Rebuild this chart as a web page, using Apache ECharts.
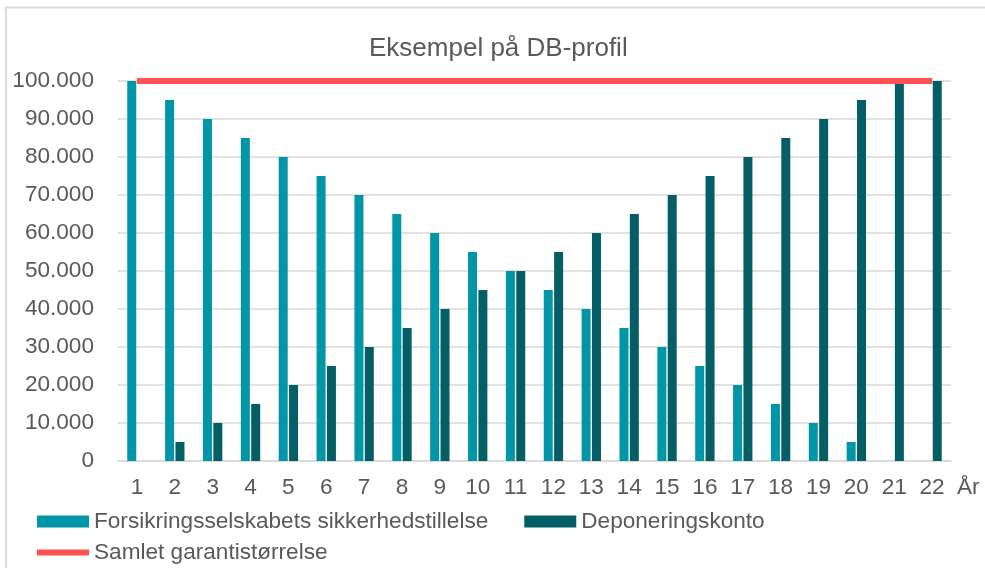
<!DOCTYPE html>
<html>
<head>
<meta charset="utf-8">
<script src="https://cdn.jsdelivr.net/npm/echarts@6/dist/echarts.min.js"></script>
<style>
  html, body { margin: 0; padding: 0; background: #fff; }
  #chart { width: 985px; height: 568px; }
</style>
</head>
<body>
<div id="chart"></div>
<script>
// years
const years = ['1','2','3','4','5','6','7','8','9','10','11','12','13','14','15','16','17','18','19','20','21','22'];
// Forsikringsselskabets sikkerhedstillelse
const sikkerhed = [100000,95000,90000,85000,80000,75000,70000,65000,60000,55000,50000,45000,40000,35000,30000,25000,20000,15000,10000,5000,0,0];
// Deponeringskonto
const deponering = [0,5000,10000,15000,20000,25000,30000,35000,40000,45000,50000,55000,60000,65000,70000,75000,80000,85000,90000,95000,100000,100000];
// Samlet garantistørrelse
const samlet = [100000,100000,100000,100000,100000,100000,100000,100000,100000,100000,100000,100000,100000,100000,100000,100000,100000,100000,100000,100000,100000,100000];

const font = 'Liberation Sans, Arial, sans-serif';
const grey = '#595959';
const fs = 22.6;

// 10000 -> "10.000"
const fmt = v => String(v).replace(/\B(?=(\d{3})+(?!\d))/g, '.');

const chart = echarts.init(document.getElementById('chart'));

const option = {
  animation: false,
  backgroundColor: '#fff',
  textStyle: { fontFamily: font },
  title: {
    text: 'Eksempel på DB-profil',
    left: 364,
    top: 31,
    textStyle: { fontFamily: font, fontSize: 26, fontWeight: 'normal', color: grey }
  },
  graphic: [{
    type: 'rect',
    shape: { x: 6, y: 7.5, width: 990, height: 580 },
    style: { fill: 'none', stroke: '#d9d9d9', lineWidth: 2 },
    silent: true
  }],
  legend: [{
    data: ['Forsikringsselskabets sikkerhedstillelse', 'Deponeringskonto'],
    left: 32,
    top: 505,
    itemWidth: 52,
    itemHeight: 12,
    itemGap: 36,
    icon: 'rect',
    textStyle: { fontFamily: font, fontSize: fs, color: grey }
  }, {
    data: [{ name: 'Samlet garantistørrelse', icon: 'rect', itemStyle: { color: '#FF5252' } }],
    left: 32,
    top: 536,
    itemWidth: 52,
    itemHeight: 6,
    textStyle: { fontFamily: font, fontSize: fs, color: grey }
  }],
  grid: { left: 118, right: 34, top: 81, bottom: 107 },
  xAxis: {
    type: 'category',
    data: years,
    name: 'År',
    nameLocation: 'end',
    nameGap: 6,
    nameTextStyle: { fontFamily: font, fontSize: fs, color: grey, verticalAlign: 'top', padding: [15, 0, 0, 0] },
    axisLine: { lineStyle: { color: '#d9d9d9', width: 1.5 } },
    axisTick: { show: false },
    axisLabel: { fontFamily: font, fontSize: fs, color: grey, margin: 15 }
  },
  yAxis: {
    type: 'value',
    min: 0,
    max: 100000,
    interval: 10000,
    axisLine: { show: false },
    axisTick: { show: false },
    splitLine: { lineStyle: { color: '#d9d9d9', width: 1.5 } },
    axisLabel: { fontFamily: font, fontSize: fs, color: grey, margin: 24, formatter: fmt }
  },
  series: [{
    name: 'Forsikringsselskabets sikkerhedstillelse',
    type: 'bar',
    data: sikkerhed,
    barWidth: 9,
    barGap: '15%',
    itemStyle: { color: '#0096A7' }
  }, {
    name: 'Deponeringskonto',
    type: 'bar',
    data: deponering,
    barWidth: 9,
    barGap: '15%',
    itemStyle: { color: '#035E65' }
  }, {
    name: 'Samlet garantistørrelse',
    type: 'line',
    data: samlet,
    symbol: 'none',
    z: 5,
    lineStyle: { color: '#FF5252', width: 6 },
    itemStyle: { color: '#FF5252' }
  }]
};

chart.setOption(option);
</script>
</body>
</html>
